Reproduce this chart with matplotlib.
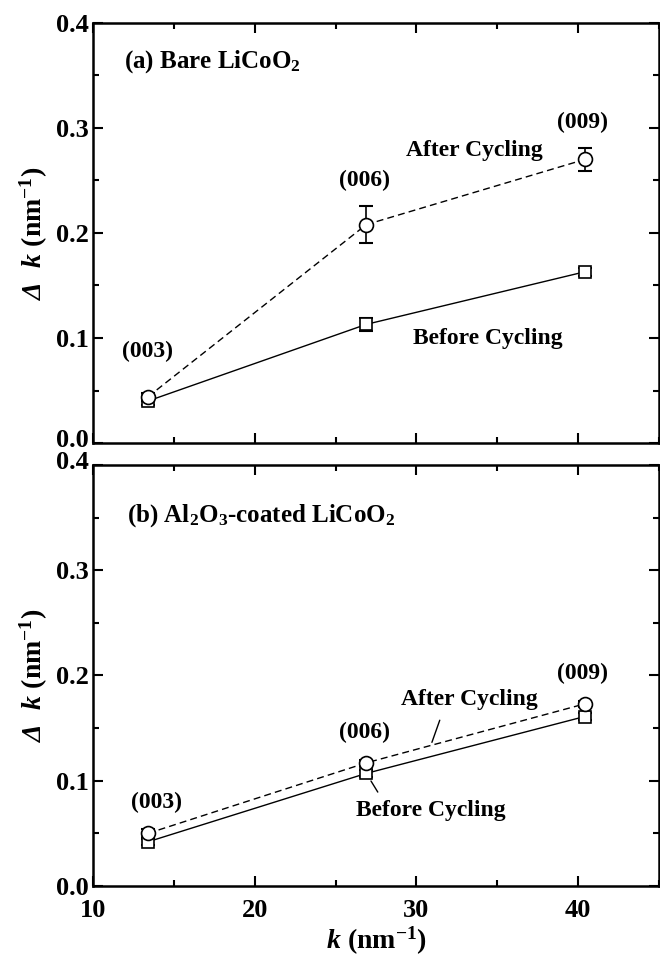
import matplotlib
matplotlib.use("Agg")
import matplotlib.pyplot as plt
import matplotlib.transforms as mtransforms
from matplotlib.ticker import MultipleLocator

plt.rcParams["font.family"] = "Liberation Serif"
plt.rcParams["font.weight"] = "bold"
plt.rcParams["axes.labelweight"] = "bold"
# rm is bold italic so that the Greek Delta comes out slanted; upright parts use \mathbf
plt.rcParams["mathtext.fontset"] = "custom"
plt.rcParams["mathtext.rm"] = "Liberation Serif:bold:italic"
plt.rcParams["mathtext.bf"] = "Liberation Serif:bold"
plt.rcParams["mathtext.it"] = "Liberation Serif:bold:italic"

# peak positions k (nm^-1) for (003), (006), (009)
k_pos = [13.4, 26.9, 40.4]
peaks = ["(003)", "(006)", "(009)"]

# (a) bare LiCoO2
bare_before = [0.040, 0.113, 0.163]
bare_before_err = [0.004, 0.006, 0.004]
bare_after = [0.044, 0.208, 0.270]
bare_after_err = [0.004, 0.018, 0.011]

# (b) Al2O3-coated LiCoO2
coat_before = [0.042, 0.107, 0.161]
coat_before_err = [0.003, 0.003, 0.003]
coat_after = [0.050, 0.117, 0.173]
coat_after_err = [0.004, 0.003, 0.003]

W, H = 660, 955
fig = plt.figure(figsize=(W / 100, H / 100), dpi=100)


def px_axes(left, top, right, bottom):
    return fig.add_axes([left / W, 1 - bottom / H, (right - left) / W, (bottom - top) / H])


ax1 = px_axes(93, 23, 659, 443)
ax2 = px_axes(93, 465, 659, 886)


def draw(ax, before, berr, after, aerr):
    ax.errorbar(k_pos, before, yerr=berr, fmt="none", ecolor="black", elinewidth=1.2,
                capsize=5, capthick=1.5, zorder=1)
    ax.errorbar(k_pos, after, yerr=aerr, fmt="none", ecolor="black", elinewidth=1.2,
                capsize=5, capthick=1.5, zorder=1)
    ax.plot(k_pos, before, "-", color="black", lw=1.0, marker="s", ms=9,
            mfc="white", mec="black", mew=1.2, zorder=2)
    ax.plot(k_pos, after, "--", color="black", lw=1.0, marker="o", ms=10,
            mfc="white", mec="black", mew=1.2, zorder=2, dashes=(5, 3))

    ax.set_xlim(10, 45)
    ax.set_ylim(0.0, 0.4)
    ax.xaxis.set_major_locator(MultipleLocator(10))
    ax.xaxis.set_minor_locator(MultipleLocator(5))
    ax.yaxis.set_major_locator(MultipleLocator(0.1))
    ax.yaxis.set_minor_locator(MultipleLocator(0.05))
    ax.tick_params(which="both", direction="in", top=True, right=True, width=1.5)
    ax.tick_params(which="major", length=7)
    ax.tick_params(which="minor", length=4)
    ax.tick_params(axis="y", labelsize=19, pad=3)
    ax.tick_params(axis="x", labelsize=19, pad=9)
    for lab in ax.get_xticklabels() + ax.get_yticklabels():
        lab.set_fontweight("bold")
    for s in ax.spines.values():
        s.set_linewidth(1.8)
    ax.set_ylabel(r"$\Delta\ \ k\ \mathbf{(nm^{-1})}$", fontsize=20, labelpad=4)


draw(ax1, bare_before, bare_before_err, bare_after, bare_after_err)
draw(ax2, coat_before, coat_before_err, coat_after, coat_after_err)
ax1.tick_params(labelbottom=False)
ax2.set_xlabel(r"$k\ \mathbf{(nm^{-1})}$", fontsize=20, labelpad=2)

fs = 17
# panel (a)
ax1.text(11.9, 0.363, r"(a) Bare LiCoO$_\mathbf{2}$", fontsize=18, ha="left", va="center")
ax1.text(k_pos[0], 0.087, peaks[0], fontsize=fs, ha="center", va="center")
ax1.text(k_pos[1] - 0.1, 0.250, peaks[1], fontsize=fs, ha="center", va="center")
ax1.text(k_pos[2] - 0.1, 0.305, peaks[2], fontsize=fs, ha="center", va="center")
ax1.text(33.6, 0.279, "After Cycling", fontsize=fs, ha="center", va="center")
ax1.text(34.4, 0.100, "Before Cycling", fontsize=fs, ha="center", va="center")

# panel (b)
ax2.text(12.1, 0.352, r"(b) Al$_\mathbf{2}$O$_\mathbf{3}$-coated LiCoO$_\mathbf{2}$",
         fontsize=18, ha="left", va="center")
ax2.text(k_pos[0] + 0.5, 0.079, peaks[0], fontsize=fs, ha="center", va="center")
ax2.text(k_pos[1] - 0.1, 0.146, peaks[1], fontsize=fs, ha="center", va="center")
ax2.text(k_pos[2] - 0.1, 0.202, peaks[2], fontsize=fs, ha="center", va="center")
ax2.text(33.3, 0.177, "After Cycling", fontsize=fs, ha="center", va="center")
ax2.text(30.9, 0.072, "Before Cycling", fontsize=fs, ha="center", va="center")
ax2.annotate("", xy=(30.9, 0.134), xytext=(31.5, 0.160),
             arrowprops=dict(arrowstyle="-", color="black", lw=1.0))
ax2.annotate("", xy=(27.1, 0.102), xytext=(27.7, 0.087),
             arrowprops=dict(arrowstyle="-", color="black", lw=1.0))

# nudge the two stacked labels at the panel junction apart, as in the original
fig.canvas.draw()
for ax, loc, dy in [(ax1, 0.0, 5), (ax2, 0.4, 5)]:
    for tick in ax.yaxis.get_major_ticks():
        if abs(tick.get_loc() - loc) < 1e-9:
            off = mtransforms.ScaledTranslation(0, dy / 100, fig.dpi_scale_trans)
            tick.label1.set_transform(tick.label1.get_transform() + off)

fig.savefig("out.png", dpi=100)
